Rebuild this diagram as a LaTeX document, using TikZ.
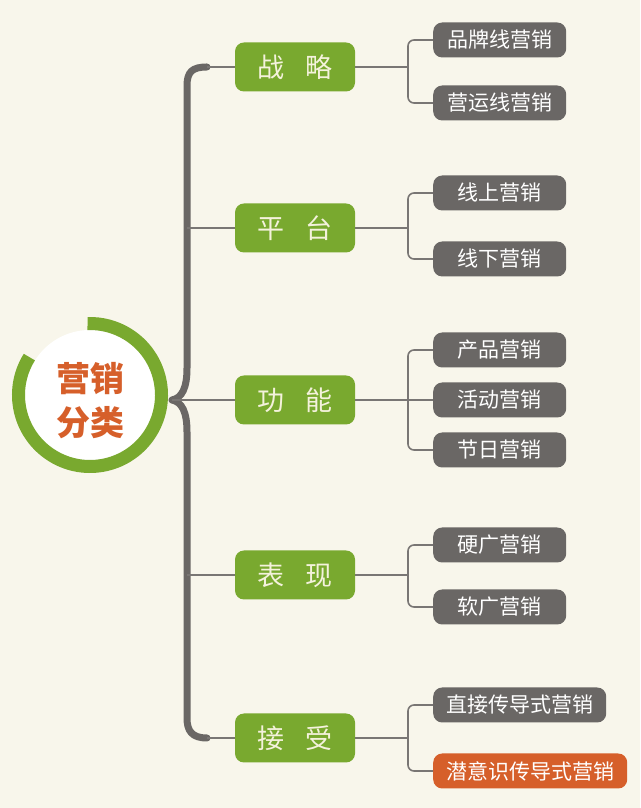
\documentclass[tikz,border=0pt]{standalone}
\usepackage{fontspec}
\setmainfont{Noto Sans CJK SC}
\definecolor{bgcream}{HTML}{F8F6EB}
\definecolor{leafgreen}{HTML}{79A92F}
\definecolor{stonegray}{HTML}{6A6765}
\definecolor{rustred}{HTML}{D65F2A}
\definecolor{paletext}{HTML}{F4F2DC}
\tikzset{
  catbox/.style={fill=leafgreen, text=paletext, rounded corners=9pt, minimum width=120pt, minimum height=49pt, inner sep=0pt, font=\fontsize{27}{27}\selectfont},
  leafbox/.style={fill=stonegray, text=white, rounded corners=9pt, minimum width=133pt, minimum height=35pt, inner xsep=13pt, inner ysep=0pt, anchor=west, font=\fontsize{21}{21}\selectfont},
  trunk/.style={draw=stonegray, line width=7pt, line join=round, line cap=round},
  twig/.style={draw=stonegray!90, line width=1.6pt},
}
\begin{document}
\begin{tikzpicture}[x=1pt,y=1pt]
            \useasboundingbox (0,0) rectangle (640,808);
            \fill[bgcream] (0,0) rectangle (640,808);

            % centre circle
            \coordinate (core) at (90,413);
            \fill[white] (core) circle (65pt);
            \draw[leafgreen, line width=13pt] ([shift={(148:71.5pt)}]core) arc[start angle=148, end angle=452, radius=71.5pt];
            \node[text=rustred, font=\fontsize{34}{44}\selectfont\bfseries, align=center] (title) at (90,407) {营销\\分类};

            % categories
            \node[catbox] (zhanlue) at (295,741) {战\hspace{0.8em}略};
            \node[catbox] (pingtai) at (295,580) {平\hspace{0.8em}台};
            \node[catbox] (gongneng) at (295,408) {功\hspace{0.8em}能};
            \node[catbox] (biaoxian) at (295,233) {表\hspace{0.8em}现};
            \node[catbox] (jieshou) at (295,70) {接\hspace{0.8em}受};

            % trunk
            \coordinate (tip) at (172,408);
            \coordinate (trunk-top) at (207,741);
            \coordinate (trunk-bot) at (207,70);
            \draw[trunk] (trunk-top) .. controls (192,741) and (187,736) .. (187,722) -- (187,440)
                .. controls (187,420) and (182,410) .. (tip)
                .. controls (182,406) and (187,396) .. (187,376) -- (187,90)
                .. controls (187,77) and (192,70) .. (trunk-bot);
            \draw[twig] (trunk-top) -- (zhanlue.west);
            \draw[twig] (187,580) -- (pingtai.west);
            \draw[twig] (tip) -- (gongneng.west);
            \draw[twig] (187,233) -- (biaoxian.west);
            \draw[twig] (trunk-bot) -- (jieshou.west);

            % leaves
            \node[leafbox] (pinpai) at (433,768) {品牌线营销};
            \node[leafbox] (yingyun) at (433,705) {营运线营销};
            \node[leafbox] (xianshang) at (433,615) {线上营销};
            \node[leafbox] (xianxia) at (433,549) {线下营销};
            \node[leafbox] (chanpin) at (433,458) {产品营销};
            \node[leafbox] (huodong) at (433,408) {活动营销};
            \node[leafbox] (jieri) at (433,358) {节日营销};
            \node[leafbox] (yingguang) at (433,263) {硬广营销};
            \node[leafbox] (ruanguang) at (433,201) {软广营销};
            \node[leafbox] (zhijie) at (433,103) {直接传导式营销};
            \node[leafbox, fill=rustred] (qianyishi) at (433,37) {潜意识传导式营销};

            % small braces
            \coordinate (zhanlue-fork) at (408,741);
            \draw[twig] (zhanlue.east) -- (zhanlue-fork);
            \draw[twig, rounded corners=6pt] (pinpai.west) -| (zhanlue-fork) |- (yingyun.west);

            \coordinate (pingtai-fork) at (408,580);
            \draw[twig] (pingtai.east) -- (pingtai-fork);
            \draw[twig, rounded corners=6pt] (xianshang.west) -| (pingtai-fork) |- (xianxia.west);

            \coordinate (gongneng-fork) at (408,408);
            \draw[twig] (gongneng.east) -- (huodong.west);
            \draw[twig, rounded corners=6pt] (chanpin.west) -| (gongneng-fork) |- (jieri.west);

            \coordinate (biaoxian-fork) at (408,233);
            \draw[twig] (biaoxian.east) -- (biaoxian-fork);
            \draw[twig, rounded corners=6pt] (yingguang.west) -| (biaoxian-fork) |- (ruanguang.west);

            \coordinate (jieshou-fork) at (408,70);
            \draw[twig] (jieshou.east) -- (jieshou-fork);
            \draw[twig, rounded corners=6pt] (zhijie.west) -| (jieshou-fork) |- (qianyishi.west);
        \end{tikzpicture}
\end{document}
